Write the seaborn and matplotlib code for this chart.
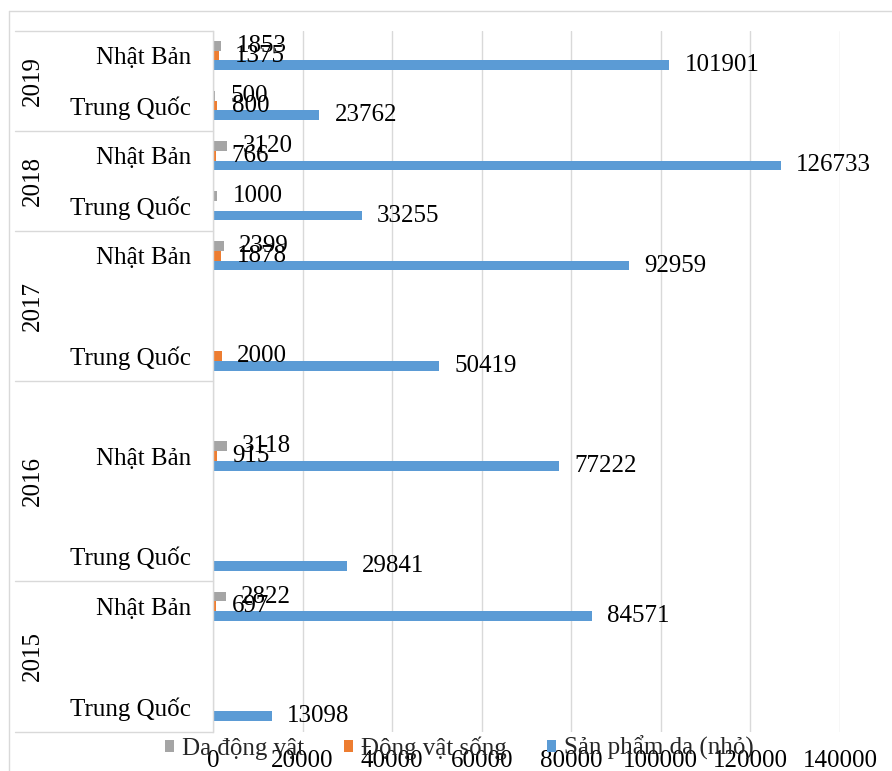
import matplotlib
matplotlib.use("Agg")
import matplotlib.pyplot as plt
import matplotlib.transforms as mtransforms
from matplotlib.lines import Line2D
from matplotlib.patches import Patch
import pandas as pd
import seaborn as sns

# Rows of the category axis, top to bottom; an empty country is a spacer row
slot_years = ["2019", "2019", "2018", "2018", "2017", "2017", "2017",
              "2016", "2016", "2016", "2016", "2015", "2015", "2015"]
slot_countries = ["Nhật Bản", "Trung Quốc", "Nhật Bản", "Trung Quốc",
                  "Nhật Bản", "", "Trung Quốc",
                  "", "Nhật Bản", "", "Trung Quốc",
                  "Nhật Bản", "", "Trung Quốc"]

series_names = ["Da động vật", "Động vật sống", "Sản phẩm da (nhỏ)"]
da_dong_vat = [1853, 500, 3120, 1000, 2399, None, None,
               None, 3118, None, None, 2822, None, None]
dong_vat_song = [1375, 800, 766, None, 1878, None, 2000,
                 None, 915, None, None, 697, None, None]
san_pham_da = [101901, 23762, 126733, 33255, 92959, None, 50419,
               None, 77222, None, 29841, 84571, None, 13098]

x_ticks = [0, 20000, 40000, 60000, 80000, 100000, 120000, 140000]
series_colors = ["#a5a5a5", "#ed7d31", "#5b9bd5"]
line_gray = "#d9d9d9"
FS = 18

sns.set_style("white")
plt.rcParams["font.family"] = ["Liberation Serif", "DejaVu Serif"]

slot_ids = [f"{y}-{i}" for i, y in enumerate(slot_years)]
records = []
for name, values in zip(series_names, [da_dong_vat, dong_vat_song, san_pham_da]):
    for sid, v in zip(slot_ids, values):
        if v is not None:
            records.append({"slot": sid, "series": name, "value": v})
df = pd.DataFrame(records)

W, H = 892, 771
fig = plt.figure(figsize=(W / 100, H / 100), dpi=100)
ax = fig.add_axes([213 / W, 1 - 731.5 / H, 627 / W, 701 / H])

sns.barplot(data=df, x="value", y="slot", hue="series", order=slot_ids,
            hue_order=series_names, palette=series_colors, orient="h",
            width=0.585, saturation=1, errorbar=None, linewidth=0,
            legend=False, ax=ax)

for container in ax.containers:
    ax.bar_label(container, fmt="{:.0f}", padding=11, fontsize=FS,
                 color="black")

ax.set_xlim(0, 140000)
ax.set_ylim(len(slot_ids) - 0.5, -0.5)
ax.set_xticks(x_ticks)
ax.set_xticklabels([str(t) for t in x_ticks], fontsize=FS, color="black")
ax.set_yticks(range(len(slot_ids)))
ax.set_yticklabels(slot_countries, fontsize=FS, color="black")
ax.tick_params(axis="x", length=0, pad=13)
ax.tick_params(axis="y", length=0, pad=16)
ax.set_xlabel("")
ax.set_ylabel("")
ax.xaxis.grid(True, color=line_gray, linewidth=1)
ax.yaxis.grid(False)
ax.set_axisbelow(True)
for side in ["top", "right", "bottom"]:
    ax.spines[side].set_visible(False)
ax.spines["left"].set_color(line_gray)
ax.spines["left"].set_linewidth(1)

# Year groups on the outer category level
trans = mtransforms.blended_transform_factory(fig.transFigure, ax.transData)
groups = []
start = 0
for i in range(1, len(slot_years) + 1):
    if i == len(slot_years) or slot_years[i] != slot_years[start]:
        groups.append((slot_years[start], start, i - 1))
        start = i
edges = [-0.5] + [g[2] + 0.5 for g in groups]
for e in edges:
    fig.add_artist(Line2D([15 / W, 213 / W], [e, e], transform=trans,
                          color=line_gray, linewidth=1))
for year, a, b in groups:
    ax.text(33 / W, (a + b) / 2, year, transform=trans, rotation=90,
            ha="center", va="center", fontsize=FS, color="black")

# Chart frame
fig.add_artist(Line2D([9 / W, 1], [1 - 11 / H, 1 - 11 / H],
                      transform=fig.transFigure, color=line_gray, linewidth=1))
fig.add_artist(Line2D([9 / W, 9 / W], [0, 1 - 11 / H],
                      transform=fig.transFigure, color=line_gray, linewidth=1))

handles = [Patch(facecolor=c, edgecolor="none") for c in series_colors]
fig.legend(handles, series_names, loc="center", bbox_to_anchor=(0.5146, 0.030),
           ncol=3, frameon=False, fontsize=FS, handlelength=0.38,
           handleheight=0.38, handletextpad=0.3, columnspacing=1.6,
           borderpad=0, borderaxespad=0)

fig.savefig("out.png", dpi=100)
